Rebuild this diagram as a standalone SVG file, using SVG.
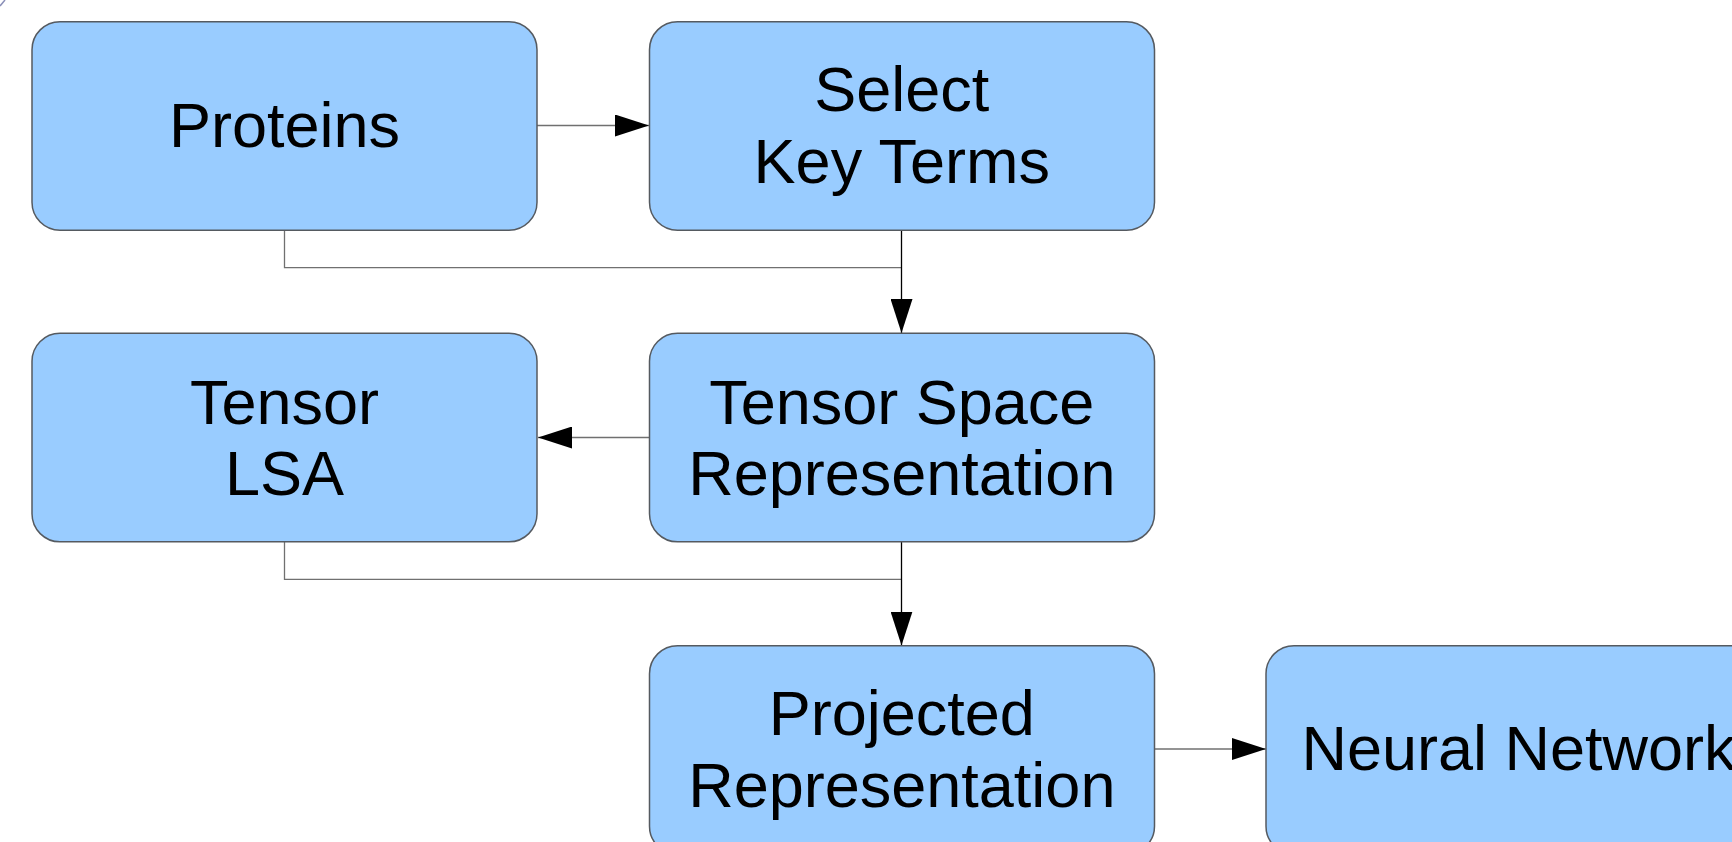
<svg xmlns="http://www.w3.org/2000/svg" width="1732" height="842" viewBox="0 0 1732 842">
<style>
.box{fill:#99ccff;stroke:#555a60;stroke-width:1.5}
.lbl{font-family:"Liberation Sans",Arial,sans-serif;font-size:63px;fill:#000;text-anchor:middle}
.conn{fill:none;stroke:#707070;stroke-width:1.3}
.connv{fill:none;stroke:#000;stroke-width:1.3}
</style>
<defs>
<marker id="ah" markerWidth="34" markerHeight="22" refX="34" refY="11" orient="auto" markerUnits="userSpaceOnUse">
<path d="M0,0 L34,11 L0,22 Z" fill="#000"/>
</marker>
</defs>
<rect width="1732" height="842" fill="#fff"/>
<path d="M0,6 L5,0" stroke="#8a8fb8" stroke-width="1.5"/>
<g id="connectors">
<path class="conn" d="M537,125.5 H649" marker-end="url(#ah)"/>
<path class="conn" d="M284.5,230 V267.7 H901.5"/>
<path class="connv" d="M901.5,230 V333" marker-end="url(#ah)"/>
<path class="conn" d="M649.5,437.5 H538" marker-end="url(#ah)"/>
<path class="conn" d="M284.5,541.5 V579.3 H901.5"/>
<path class="connv" d="M901.5,541.5 V645.5" marker-end="url(#ah)"/>
<path class="conn" d="M1154,749 H1266" marker-end="url(#ah)"/>
</g>
<g id="proteins">
<rect class="box" x="32" y="21.7" width="505" height="208.5" rx="28" ry="28"/>
<text class="lbl" x="284.5" y="147.3">Proteins</text>
</g>
<g id="select-key-terms">
<rect class="box" x="649.5" y="21.7" width="505" height="208.5" rx="28" ry="28"/>
<text class="lbl" x="901.8" y="111">Select</text>
<text class="lbl" x="901.8" y="182.7">Key Terms</text>
</g>
<g id="tensor-lsa">
<rect class="box" x="32" y="333.3" width="505" height="208.5" rx="28" ry="28"/>
<text class="lbl" x="284.5" y="424">Tensor</text>
<text class="lbl" x="284.5" y="495">LSA</text>
</g>
<g id="tensor-space">
<rect class="box" x="649.5" y="333.3" width="505" height="208.5" rx="28" ry="28"/>
<text class="lbl" x="901.8" y="424">Tensor Space</text>
<text class="lbl" x="901.8" y="495">Representation</text>
</g>
<g id="projected">
<rect class="box" x="649.5" y="645.7" width="505" height="208.5" rx="28" ry="28"/>
<text class="lbl" x="901.8" y="735">Projected</text>
<text class="lbl" x="901.8" y="806.7">Representation</text>
</g>
<g id="neural-network">
<rect class="box" x="1266" y="645.7" width="505" height="208.5" rx="28" ry="28"/>
<text class="lbl" x="1518.5" y="770">Neural Network</text>
</g>
</svg>
